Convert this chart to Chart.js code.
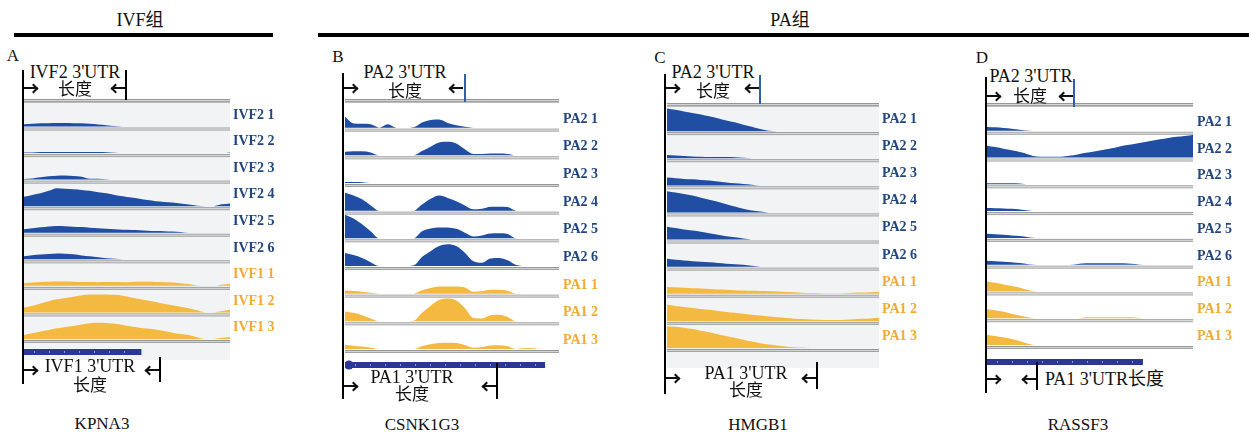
<!DOCTYPE html>
<html lang="zh">
<head>
<meta charset="UTF-8">
<title>3'UTR coverage</title>
<style>
  body{margin:0;background:#fff;}
  #page{position:relative;width:1251px;height:432px;overflow:hidden;background:#fff;
        font-family:"Liberation Serif","Noto Sans CJK SC",serif;color:#111;}
  .t{position:absolute;white-space:nowrap;line-height:1;}
  .ln{position:absolute;background:#000;}
  .hd{position:absolute;width:7px;height:7px;box-sizing:border-box;transform:rotate(45deg);border:0 solid #111;}
  canvas{position:absolute;}
</style>
<script src="https://cdn.jsdelivr.net/npm/chart.js@4.4.0/dist/chart.umd.min.js"></script>
</head>
<body>
<div id="page"></div>
<script>
// positions along each locus, % of track width
const POS = [0,4,8,12,16,20,24,28,32,36,40,44,48,52,56,60,64,68,72,76,80,84,88,92,96,100];

// A  KPNA3
const kpna3Labels = ['IVF2 1','IVF2 2','IVF2 3','IVF2 4','IVF2 5','IVF2 6','IVF1 1','IVF1 2','IVF1 3'];
const kpna3Cov = [
  [10,12,14,15,16, 16,15,14,12,9, 6,2,0,0,0, 0,0,0,0,0, 0,0,0,0,0, 0],
  [2,2,5,5,5, 5,5,5,5,5, 4,1,0,0,0, 0,0,0,0,0, 0,0,0,0,0, 3],
  [3,5,10,15,17, 18,16,13,4,4, 2,0,0,0,0, 0,0,0,0,0, 0,0,0,0,0, 0],
  [42,50,57,68,80, 77,75,72,68,62, 57,50,44,38,33, 27,22,19,16,12, 7,2,0,0,8, 12],
  [15,20,24,28,30, 29,27,25,22,20, 18,15,13,12,11, 9,8,7,5,3, 0,0,0,0,0, 0],
  [14,18,21,24,26, 25,22,17,13,9, 5,2,0,0,0, 0,0,0,0,0, 0,0,0,0,0, 0],
  [12,15,17,18,19, 19,18,17,17,16, 17,17,16,17,18, 18,17,16,15,12, 8,2,0,0,5, 9],
  [22,30,40,50,58, 64,70,76,79,80, 80,78,74,66,60, 53,46,38,32,25, 18,9,0,0,6, 12],
  [18,25,33,40,47, 53,58,64,70,72, 71,68,62,55,50, 46,42,35,28,22, 17,8,0,0,5, 9]
];
const kpna3Gene = [0, 57];

// B  CSNK1G3
const csnkLabels = ['PA2 1','PA2 2','PA2 3','PA2 4','PA2 5','PA2 6','PA1 1','PA1 2','PA1 3'];
const csnkCov = [
  [46,18,16,14,0, 14,0,0,2,22, 32,34,20,10,4, 0,0,0,0,0, 0,0,0,0,0, 0],
  [15,17,17,12,0, 0,0,0,0,18, 36,54,57,50,26, 6,6,8,8,6, 0,0,0,0,0, 0],
  [4,4,3,0,0, 0,0,0,0,0, 0,0,0,0,0, 0,0,0,0,0, 0,0,0,0,0, 0],
  [76,64,48,22,0, 0,0,0,0,26, 50,64,54,40,22, 6,8,16,17,15, 0,0,0,0,0, 0],
  [100,84,60,30,0, 0,0,0,0,30, 42,46,46,40,24, 8,12,20,21,18, 0,0,0,0,0, 0],
  [55,46,34,16,0, 0,0,0,2,38, 62,84,92,84,56, 20,14,32,34,24, 4,0,0,0,0, 0],
  [13,11,8,4,0, 0,0,0,0,14, 24,30,30,30,26, 8,10,16,16,12, 0,0,0,0,0, 0],
  [42,36,26,12,0, 0,0,0,2,36, 66,90,96,88,56, 14,12,26,28,18, 0,0,0,0,0, 0],
  [17,14,10,5,0, 0,0,0,0,12, 20,25,26,25,17, 5,8,15,16,12, 0,4,3,0,0, 0]
];
const csnkGene = [-1, 93.5];

// C  HMGB1
const hmgbLabels = ['PA2 1','PA2 2','PA2 3','PA2 4','PA2 5','PA2 6','PA1 1','PA1 2','PA1 3'];
const hmgbCov = [
  [98,92,85,78,72, 64,56,46,38,28, 19,9,2,0,0, 0,0,0,0,0, 0,0,0,0,0, 0],
  [14,12,10,8,7, 6,6,5,4,2, 0,0,0,0,0, 0,0,0,0,0, 0,0,0,0,0, 0],
  [34,31,28,26,23, 21,17,13,9,6, 3,0,0,0,0, 0,0,0,0,0, 0,0,0,0,0, 0],
  [92,86,80,73,64, 55,46,36,26,16, 9,4,0,0,0, 0,0,0,0,0, 0,0,0,0,0, 0],
  [56,50,44,39,34, 28,21,15,10,5, 1,0,0,0,0, 0,0,0,0,0, 0,0,0,0,0, 0],
  [34,30,27,24,22, 19,16,13,11,8, 4,0,0,0,0, 0,0,0,0,0, 0,0,0,0,0, 0],
  [30,28,26,24,23, 21,19,18,16,14, 13,12,11,10,8, 7,5,4,3,2, 2,3,5,6,7, 9],
  [70,65,60,56,52, 48,43,39,35,31, 27,23,19,16,13, 10,8,6,5,4, 4,5,7,9,11, 14],
  [94,92,88,82,75, 68,60,52,44,36, 28,21,15,11,7, 4,2,0,0,0, 0,0,0,0,0, 0]
];

// D  RASSF3
const rassfLabels = ['PA2 1','PA2 2','PA2 3','PA2 4','PA2 5','PA2 6','PA1 1','PA1 2','PA1 3'];
const rassfCov = [
  [17,15,12,9,5, 1,0,0,0,0, 0,0,0,0,0, 0,0,0,0,0, 0,0,0,0,0, 0],
  [52,46,39,32,24, 14,5,4,4,4, 8,14,21,27,33, 40,48,55,61,67, 74,80,86,91,95, 99],
  [5,5,5,5,4, 0,0,0,0,0, 0,0,0,0,0, 0,0,0,0,0, 0,0,0,0,0, 0],
  [14,13,12,10,7, 3,0,0,0,0, 0,0,0,0,0, 0,0,0,0,0, 0,0,0,0,0, 0],
  [18,16,14,11,8, 3,0,0,0,0, 0,0,0,0,0, 0,0,0,0,0, 0,0,0,0,0, 0],
  [17,15,13,11,7, 2,0,0,0,0, 0,3,6,6,6, 6,6,5,3,0, 0,0,0,0,0, 0],
  [44,38,31,24,16, 6,0,0,0,0, 0,0,0,0,0, 0,0,0,0,0, 0,0,0,0,0, 0],
  [39,35,28,20,12, 4,0,0,0,0, 0,0,4,4,4, 4,4,4,3,0, 0,0,0,0,0, 0],
  [44,40,34,26,16, 6,0,0,0,0, 0,0,0,0,0, 0,0,0,0,0, 0,0,0,0,0, 0]
];
const rassfGene = [0, 75.7];

const COV_BLUE = '#1f4ea3', COV_YEL = '#f3b941';
const LAB_BLUE = '#23467f', LAB_YEL = '#f4a932';
const isBlue = l => /^(IVF2|PA2)/.test(l);

const page = document.getElementById('page');

function txt(x, y, s, size, align, color) {
  const d = document.createElement('div');
  d.className = 't';
  d.textContent = s;
  d.style.left = x + 'px';
  d.style.top = y + 'px';
  d.style.fontSize = size + 'px';
  if (color) d.style.color = color;
  d.style.transform = align === 'left' ? 'translate(0,-50%)' : 'translate(-50%,-50%)';
  page.appendChild(d);
}
function ln(x, y, w, h, color) {
  const d = document.createElement('div');
  d.className = 'ln';
  d.style.left = x + 'px'; d.style.top = y + 'px';
  d.style.width = w + 'px'; d.style.height = h + 'px';
  if (color) d.style.background = color;
  page.appendChild(d);
}
// bracket arrows: shaft plus open chevron head
function arrowR(x, y) {
  ln(x, y - 1, 13, 2, '#111');
  const h = document.createElement('div');
  h.className = 'hd';
  h.style.borderTopWidth = '2px'; h.style.borderRightWidth = '2px';
  h.style.left = (x + 6) + 'px'; h.style.top = (y - 3.5) + 'px';
  page.appendChild(h);
}
function arrowL(xEnd, y) {
  ln(xEnd - 13, y - 1, 13, 2, '#111');
  const h = document.createElement('div');
  h.className = 'hd';
  h.style.borderBottomWidth = '2px'; h.style.borderLeftWidth = '2px';
  h.style.left = (xEnd - 13) + 'px'; h.style.top = (y - 3.5) + 'px';
  page.appendChild(h);
}

// gray double rule used by the track browser
function band(ctx, x, y, w) {
  ctx.fillStyle = '#969696'; ctx.fillRect(x, y, w, 1);
  ctx.fillStyle = '#d4d4d4'; ctx.fillRect(x, y + 1, w, 1);
  ctx.fillStyle = '#a2a2a2'; ctx.fillRect(x, y + 2, w, 1);
}

function trackPlugin(p) {
  return {
    id: 'tracks',
    beforeDatasetsDraw(chart) {
      const ctx = chart.ctx, a = chart.chartArea, w = a.right - a.left;
      ctx.save();
      if (p.bg) {
        ctx.fillStyle = p.bg;
        ctx.fillRect(a.left, a.top - 5, w, chart.height - (a.top - 5));
      }
      band(ctx, a.left, a.top - 5, w);
      ctx.fillStyle = '#bcbcbc'; ctx.fillRect(a.left, a.top - 2, w, 1);
      p.labels.forEach((l, i) => band(ctx, a.left, chart.scales['y' + i].bottom - 3, w));
      ctx.restore();
    },
    afterDraw(chart) {
      const ctx = chart.ctx, a = chart.chartArea;
      ctx.save();
      ctx.font = 'bold 14px "Liberation Serif"';
      ctx.textBaseline = 'middle';
      p.labels.forEach((l, i) => {
        const s = chart.scales['y' + i];
        ctx.fillStyle = isBlue(l) ? LAB_BLUE : LAB_YEL;
        ctx.fillText(l, a.right + p.labelDx, s.top + (s.bottom - s.top) * p.labelFrac);
      });
      if (p.gene) {
        const xs = chart.scales.x;
        const x0 = Math.max(0, xs.getPixelForValue(p.gene[0])), x1 = xs.getPixelForValue(p.gene[1]);
        const y = a.bottom + p.geneDy;
        ctx.fillStyle = '#2b3794';
        ctx.fillRect(x0, y, x1 - x0, 6);
        ctx.fillStyle = '#8c95d2';
        for (let x = x0 + 10; x < x1 - 4; x += 15) ctx.fillRect(x, y + 2, 1, 2);
        if (p.geneDot) {
          ctx.fillStyle = '#2b3794';
          ctx.beginPath(); ctx.arc(x0 + 4, y + 3, 4.5, 0, Math.PI * 2); ctx.fill();
        }
      }
      ctx.restore();
    }
  };
}

function makePanel(p) {
  const cv = document.createElement('canvas');
  const W = p.w + p.padRight;
  cv.width = W; cv.height = p.h;
  cv.style.left = p.left + 'px'; cv.style.top = p.top + 'px';
  cv.style.width = W + 'px'; cv.style.height = p.h + 'px';
  page.appendChild(cv);

  const scales = { x: { type: 'linear', min: 0, max: 100, display: false } };
  p.labels.forEach((l, i) => {
    scales['y' + i] = {
      type: 'linear', position: 'right', stack: 'trk', stackWeight: 1,
      min: p.yMin, max: 100, offset: false,
      ticks: { display: false }, grid: { display: false, drawTicks: false }, border: { display: false }
    };
  });
  const datasets = p.cov.map((vals, i) => {
    const c = isBlue(p.labels[i]) ? COV_BLUE : COV_YEL;
    return {
      label: p.labels[i],
      data: POS.map((x, k) => ({ x: x, y: vals[k] })),
      yAxisID: 'y' + i,
      fill: 'origin', backgroundColor: c, borderColor: c, borderWidth: 0,
      pointRadius: 0, cubicInterpolationMode: 'monotone'
    };
  });
  new Chart(cv, {
    type: 'line',
    data: { datasets },
    options: {
      responsive: false, animation: false, events: [],
      layout: { padding: { top: p.padTop, bottom: p.padBottom, right: p.padRight, left: 0 } },
      plugins: { legend: { display: false }, tooltip: { enabled: false } },
      scales
    },
    plugins: [trackPlugin(p)]
  });
}

const panels = [
  { left: 24, top: 98, w: 206, h: 262, padTop: 6, padBottom: 17, padRight: 50, bg: '#f2f3f5',
    labels: kpna3Labels, cov: kpna3Cov, yMin: -18, labelFrac: 0.42, labelDx: 3, gene: kpna3Gene, geneDy: 6 },
  { left: 345, top: 98, w: 214, h: 274, padTop: 6, padBottom: 19, padRight: 50, bg: null,
    labels: csnkLabels, cov: csnkCov, yMin: -17, labelFrac: 0.55, labelDx: 4, gene: csnkGene, geneDy: 9, geneDot: true },
  { left: 667, top: 102, w: 212, h: 266, padTop: 6, padBottom: 16, padRight: 50, bg: '#f2f3f5',
    labels: hmgbLabels, cov: hmgbCov, yMin: -17, labelFrac: 0.42, labelDx: 3, gene: null },
  { left: 987, top: 102, w: 206, h: 266, padTop: 6, padBottom: 19, padRight: 55, bg: null,
    labels: rassfLabels, cov: rassfCov, yMin: -17.5, labelFrac: 0.53, labelDx: 4, gene: rassfGene, geneDy: 10 }
];
panels.forEach(makePanel);

// group headers
txt(140, 20, 'IVF组', 18);
ln(14, 33, 259, 4);
txt(790, 20, 'PA组', 18);
ln(318, 33, 931, 4);

// panel letters
txt(13, 55, 'A', 17); txt(338, 56, 'B', 17); txt(660, 57, 'C', 17); txt(982, 57, 'D', 17);

// A
ln(22, 70, 2, 314);
txt(75, 72, "IVF2 3'UTR", 18); txt(75, 89, '长度', 17);
arrowR(24, 88); arrowL(125, 88); ln(125, 70, 2, 30);
txt(90, 366, "IVF1 3'UTR", 18); txt(90, 385, '长度', 17);
arrowR(24, 370); arrowL(159, 370); ln(159, 357, 2, 25);

// B
ln(342, 73, 2, 326);
txt(405, 72, "PA2 3'UTR", 18); txt(405, 91, '长度', 17);
arrowR(344, 88); arrowL(463, 88); ln(464, 74, 2, 28, '#2f5eab');
txt(412, 377, "PA1 3'UTR", 18); txt(412, 394, '长度', 17);
arrowR(344, 386); arrowL(496, 386); ln(496, 363, 2, 36);

// C
ln(664, 74, 2, 320);
txt(713, 72, "PA2 3'UTR", 18); txt(713, 91, '长度', 17);
arrowR(666, 88); arrowL(759, 88); ln(759, 75, 2, 29, '#2f5eab');
txt(746, 373, "PA1 3'UTR", 18); txt(746, 390, '长度', 17);
arrowR(666, 378); arrowL(816, 378); ln(816, 362, 2, 27);

// D
ln(985, 77, 2, 316);
txt(1031, 76, "PA2 3'UTR", 18); txt(1030, 96, '长度', 17);
arrowR(987, 96); arrowL(1073, 96); ln(1073, 79, 2, 28, '#2f5eab');
txt(1045, 379, "PA1 3'UTR长度", 18, 'left');
arrowR(987, 379); arrowL(1036, 379); ln(1036, 362, 2, 28);

// gene names
txt(102, 423, 'KPNA3', 17); txt(422, 424, 'CSNK1G3', 17);
txt(758, 424, 'HMGB1', 17); txt(1078, 424, 'RASSF3', 17);
</script>
</body>
</html>
